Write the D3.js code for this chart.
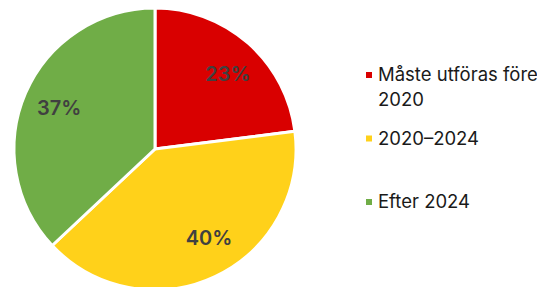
<!DOCTYPE html>
<html>
<head>
<meta charset="utf-8">
<script src="https://cdn.jsdelivr.net/npm/d3@7"></script>
<style>
  body { margin: 0; background: #fff; }
  svg { display: block; }
  .label { font-family: Inter, "Open Sans", sans-serif; font-weight: 600; font-size: 20px; fill: #404040; }
  .legend text { font-family: Inter, "Open Sans", sans-serif; font-size: 18.5px; fill: #1a1a1a; }
</style>
</head>
<body>
<div id="chart"></div>
<script>
  const categories = ["Måste utföras före 2020", "2020–2024", "Efter 2024"];
  const values = [23, 40, 37];
  const legendLines = [["Måste utföras före", "2020"], ["2020–2024"], ["Efter 2024"]];
  const colors = ["#d90000", "#ffd11a", "#70ad47"];

  const width = 537;
  const height = 287;
  const cx = 155, cy = 149, radius = 141;

  const svg = d3.select("#chart").append("svg")
    .attr("width", width)
    .attr("height", height);

  const pie = d3.pie().sort(null).value(d => d);
  const arcs = pie(values);
  const arc = d3.arc().innerRadius(0).outerRadius(radius);
  const labelArc = d3.arc().innerRadius(radius * 0.74).outerRadius(radius * 0.74);

  const g = svg.append("g").attr("transform", "translate(" + cx + "," + cy + ")");

  g.selectAll("path")
    .data(arcs)
    .enter().append("path")
    .attr("d", arc)
    .attr("fill", (d, i) => colors[i])
    .attr("stroke", "#fff")
    .attr("stroke-width", 3)
    .attr("stroke-linejoin", "round");

  // the 40% label sits a bit before its slice's mid angle
  const labelShift = [3, -6, 0];
  g.selectAll("text.label")
    .data(arcs)
    .enter().append("text")
    .attr("class", "label")
    .attr("transform", (d, i) => {
      const a = (d.startAngle + d.endAngle) / 2 + labelShift[i] * Math.PI / 180;
      const r = radius * 0.74;
      return "translate(" + (r * Math.sin(a)) + "," + (-r * Math.cos(a)) + ")";
    })
    .attr("text-anchor", "middle")
    .attr("dy", "0.35em")
    .text(d => d.data + "%");

  // legend
  const legendY = d3.scalePoint().domain(categories).range([75, 202]);
  const legend = svg.append("g").attr("class", "legend");
  const item = legend.selectAll("g")
    .data(categories)
    .enter().append("g")
    .attr("transform", d => "translate(366," + legendY(d) + ")");

  item.append("rect")
    .attr("x", 0).attr("y", -3)
    .attr("width", 6).attr("height", 6)
    .attr("fill", (d, i) => colors[i]);

  item.append("text")
    .attr("x", 12)
    .selectAll("tspan")
    .data((d, i) => legendLines[i])
    .enter().append("tspan")
    .attr("x", 12)
    .attr("dy", (d, j) => j === 0 ? "0.35em" : "1.35em")
    .text(d => d);
</script>
</body>
</html>
